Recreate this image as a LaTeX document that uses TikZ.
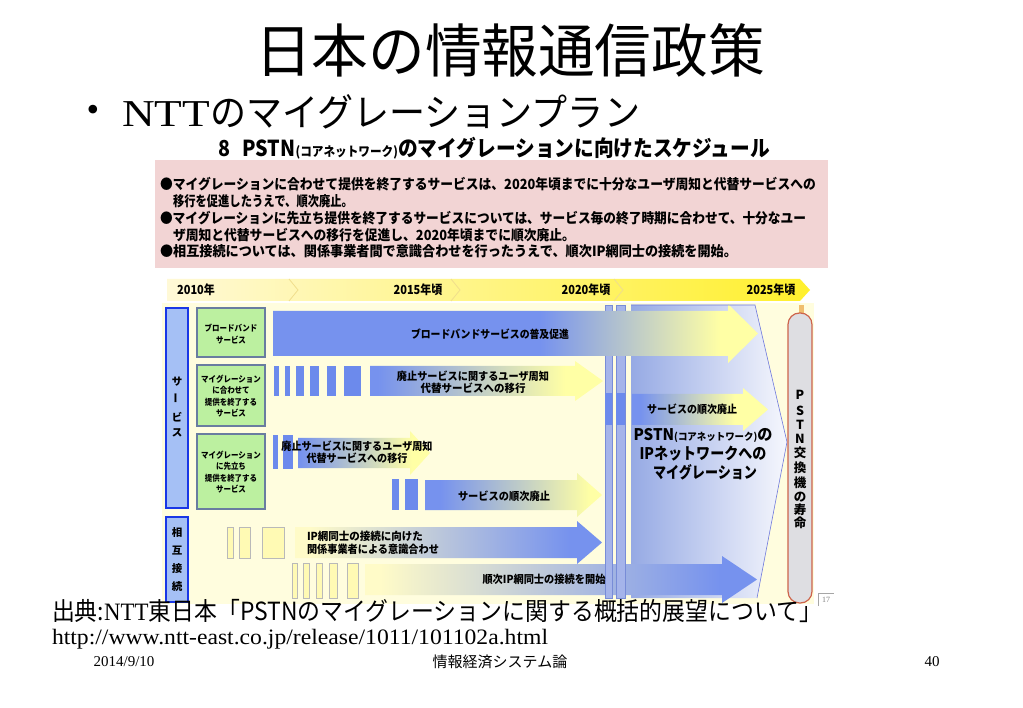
\documentclass[tikz,border=0pt]{standalone}
\usepackage{fontspec}
\setmainfont{Liberation Serif}
\newfontfamily\jp{Noto Sans CJK JP}
\newcommand\fw[2]{\resizebox{#1pt}{\height}{#2}}
\newcommand\fs[1]{\fontsize{#1}{#1}\selectfont}
\newcommand\cx[1]{\scalebox{0.88}[1]{#1}}
\definecolor{abl}{RGB}{118,146,238}
\definecolor{bbarc}{RGB}{108,138,236}
\definecolor{ayel}{RGB}{255,255,165}
\definecolor{ypale}{RGB}{255,251,200}
\definecolor{bgy}{RGB}{255,253,222}
\definecolor{pinkbg}{RGB}{242,212,212}
\definecolor{gfill}{RGB}{188,240,160}
\definecolor{gdraw}{RGB}{105,125,160}
\definecolor{lbfill}{RGB}{165,192,245}
\definecolor{lbdraw}{RGB}{25,55,230}
\definecolor{vbar}{RGB}{165,180,234}
\definecolor{vbdraw}{RGB}{120,140,215}
\definecolor{pnl}{RGB}{150,170,228}
\definecolor{pnr}{RGB}{246,247,253}
\definecolor{pillc}{RGB}{222,222,226}
\definecolor{pilld}{RGB}{205,100,75}
\definecolor{ybarc}{RGB}{255,250,180}
\definecolor{ybard}{RGB}{185,185,185}
\definecolor{tla}{RGB}{255,249,215}
\definecolor{tlb}{RGB}{255,240,45}
\definecolor{tlc}{RGB}{240,222,140}
\definecolor{stub}{RGB}{240,190,110}
\definecolor{pline}{RGB}{110,120,220}
% gradient block arrow: x0 headx tipx bodytop bodybot headtop headbot grad0 grad1
\newcommand\garr[9]{%
  \begin{scope}
    \clip (#1,#4) -- (#2,#4) -- (#2,#6) -- (#3,{(#6+#7)/2}) -- (#2,#7) -- (#2,#5) -- (#1,#5) -- cycle;
    \fill[ca] (#1-1,#6-1) rectangle (#8,#7+1);
    \shade[left color=ca,right color=cb] (#8,#6-1) rectangle (#9,#7+1);
    \fill[cb] (#9,#6-1) rectangle (#3+1,#7+1);
  \end{scope}}
\begin{document}
\begin{tikzpicture}[x=1pt,y=-1pt,
  t/.style={inner sep=0pt,outer sep=0pt},
  gbox/.style={draw=gdraw,fill=gfill,line width=2.4pt},
  lbox/.style={draw=lbdraw,fill=lbfill,line width=2.4pt},
  ybar/.style={fill=ybarc,draw=ybard,line width=0.5pt},
  bbar/.style={fill=bbarc},
  gtxt/.style={t,align=center,font=\jp\bfseries\fontsize{8.5}{11.3}\selectfont},
  rtxt/.style={t,align=center,font=\jp\bfseries\fontsize{11}{12.5}\selectfont},
  vtxt/.style={t,font=\jp\bfseries\fontsize{10.5}{11}\selectfont},
  ptxt/.style={t,font=\jp\bfseries\fontsize{12.5}{13}\selectfont},
  tltxt/.style={t,font=\jp\bfseries\fontsize{12.5}{13}\selectfont}]

\fill[white] (0,0) rectangle (1023,708);
\useasboundingbox (0,0) rectangle (1023,708);

% ---------- slide title ----------
\node[t] (title) at (510,50) {\fw{510}{\jp\fs{58}日本の情報通信政策}};
\node[t] (bul) at (93,113) {\fs{36}•};
\node[t,anchor=west] (sub) at (122,112) {\fw{88}{\fs{38}NTT}\fw{430}{\jp\fs{38}のマイグレーションプラン}};

% ---------- chart heading ----------
\node[t,anchor=west] (cht) at (218,148) {\fw{552}{\jp\bfseries\fs{22}8\hspace{14pt}PSTN{\fs{13}(コアネットワーク)}のマイグレーションに向けたスケジュール}};

% ---------- pink box ----------
\fill[pinkbg] (155,160) rectangle (828,268);
\node[t,anchor=west] (p1) at (160,184) {\fw{656}{\jp\bfseries\fs{14}●マイグレーションに合わせて提供を終了するサービスは、2020年頃までに十分なユーザ周知と代替サービスへの}};
\node[t,anchor=west] (p2) at (173,201) {\fw{180}{\jp\bfseries\fs{14}移行を促進したうえで、順次廃止。}};
\node[t,anchor=west] (p3) at (160,218) {\fw{646}{\jp\bfseries\fs{14}●マイグレーションに先立ち提供を終了するサービスについては、サービス毎の終了時期に合わせて、十分なユー}};
\node[t,anchor=west] (p4) at (173,235) {\fw{402}{\jp\bfseries\fs{14}ザ周知と代替サービスへの移行を促進し、2020年頃までに順次廃止。}};
\node[t,anchor=west] (p5) at (160,251) {\fw{577}{\jp\bfseries\fs{14}●相互接続については、関係事業者間で意識合わせを行ったうえで、順次IP網同士の接続を開始。}};

% ---------- timeline ----------
\shade[left color=tla,right color=tlb] (167,279) -- (800,279) -- (810,290) -- (800,301) -- (167,301) -- cycle;
\draw[tlc,line width=0.8pt] (289,279) -- (298,290) -- (289,301);
\draw[tlc,line width=0.8pt] (451,279) -- (460,290) -- (451,301);
\draw[tlc,line width=0.8pt] (614,279) -- (623,290) -- (614,301);
\node[tltxt] (y2010) at (196,290) {\cx{2010年}};
\node[tltxt] (y2015) at (418,290) {\cx{2015年頃}};
\node[tltxt] (y2020) at (586,290) {\cx{2020年頃}};
\node[tltxt] (y2025) at (771,290) {\cx{2025年頃}};

% ---------- chart background ----------
\fill[bgy] (162,303) rectangle (814,604);

% ---------- migration panel ----------
\shade[left color=pnl,right color=pnr] (631,305) -- (755,305) -- (787,442) -- (757,598) -- (631,598) -- cycle;

% ---------- left category boxes ----------
\draw[lbox] (166,308) rectangle (188,508);
\draw[lbox] (166,517) rectangle (188,602);
\node[vtxt] (s1) at (177,382) {サ};
\node[vtxt] (s2) at (177,398) {\rotatebox{90}{ー}};
\node[vtxt] (s3) at (177,417) {ビ};
\node[vtxt] (s4) at (177,433) {ス};
\node[vtxt] (c1) at (177,533) {相};
\node[vtxt] (c2) at (177,551) {互};
\node[vtxt] (c3) at (177,569) {接};
\node[vtxt] (c4) at (177,587) {続};

\draw[gbox] (197,308) rectangle (265,357);
\draw[gbox] (197,365) rectangle (265,426);
\draw[gbox] (197,434) rectangle (265,509);
\node[gtxt] (g1) at (231,334) {\cx{ブロードバンド}\\\cx{サービス}};
\node[gtxt] (g2) at (231,396) {\cx{マイグレーション}\\\cx{に合わせて}\\\cx{提供を終了する}\\\cx{サービス}};
\node[gtxt] (g3) at (231,472) {\cx{マイグレーション}\\\cx{に先立ち}\\\cx{提供を終了する}\\\cx{サービス}};

% ---------- bars ----------
\foreach \a/\b in {274/279,285/290,296/304,310/319,327/336,344/361}
  \fill[bbar] (\a,366) rectangle (\b,396);
\foreach \a/\b in {273/278,283/293}
  \fill[bbar] (\a,435) rectangle (\b,469);
\foreach \a/\b in {392/399,405/418}
  \fill[bbar] (\a,479) rectangle (\b,510);
\foreach \a/\b in {227/233,239/250,262/284}
  \filldraw[ybar] (\a,527) rectangle (\b,558);
\foreach \a/\b in {292/297,303/309,316/322,329/337,347/358}
  \filldraw[ybar] (\a,563) rectangle (\b,598);

% ---------- arrows ----------
\colorlet{ca}{abl}\colorlet{cb}{ayel}
\garr{370}{575}{603}{366}{396}{361}{401}{378}{565}
\garr{632}{743}{768}{394}{425}{388}{431}{640}{735}
\garr{298}{410}{430}{438}{468}{431}{475}{300}{412}
\garr{425}{577}{602}{480}{510}{473}{517}{440}{590}
\colorlet{ca}{ypale}\colorlet{cb}{abl}
\garr{295}{577}{602}{527}{558}{521}{564}{310}{570}
\garr{365}{722}{757}{564}{595}{556}{603}{380}{720}

% ---------- 2020 divider bars ----------
\filldraw[fill=vbar,draw=vbdraw,line width=0.5pt] (605,305) rectangle (612,598);
\filldraw[fill=vbar,draw=vbdraw,line width=0.5pt] (616,305) rectangle (625,598);
\fill[bbar] (605,393) rectangle (612,425);
\fill[bbar] (616,393) rectangle (625,425);

% broadband arrow (on top of the divider bars)
\colorlet{ca}{abl}\colorlet{cb}{ayel}
\garr{273}{728}{758}{311}{356}{304}{363}{540}{720}

% panel outline
\draw[pline,line width=0.6pt] (631,305) -- (755,305) -- (787,442) -- (757,598);

% ---------- arrow labels ----------
\node[t] (l1) at (490,334) {\fw{158}{\jp\bfseries\fs{11}ブロードバンドサービスの普及促進}};
\node[rtxt] (l2) at (473,382) {\fw{152}{廃止サービスに関するユーザ周知}\\\fw{105}{代替サービスへの移行}};
\node[rtxt] (l3) at (692,409) {\fw{90}{サービスの順次廃止}};
\node[rtxt] (l4) at (357,452) {\fw{151}{廃止サービスに関するユーザ周知}\\\fw{101}{代替サービスへの移行}};
\node[rtxt] (l5) at (504,496) {\fw{92}{サービスの順次廃止}};
\node[rtxt,anchor=west,align=left] (l6) at (307,543) {\fw{116}{IP網同士の接続に向けた}\\\fw{132}{関係事業者による意識合わせ}};
\node[t] (l7) at (544,579) {\fw{123}{\jp\bfseries\fs{11}順次IP網同士の接続を開始}};

\node[t] (m1) at (703,435) {\fw{139}{\jp\bfseries\fs{16}PSTN{\fs{10}(コアネットワーク)}の}};
\node[t] (m2) at (703,454) {\fw{127}{\jp\bfseries\fs{16}IPネットワークへの}};
\node[t] (m3) at (705,472) {\fw{104}{\jp\bfseries\fs{16}マイグレーション}};

% ---------- PSTN switch life pill ----------
\fill[stub] (799,305) rectangle (804,314);
\draw[pilld,fill=pillc,line width=1.2pt,rounded corners=11.5pt] (788,313) rectangle (812,603);
\foreach \c/\y [count=\i] in {P/395,S/411,T/425,N/439,交/453,換/468,機/483,の/497,寿/510,命/523}
  \node[ptxt] (pc\i) at (800,\y) {\c};

% page mark
\draw[gray!70,line width=0.5pt] (818,606) -- (818,593) -- (834,593);
\node[t,text=gray] (pm) at (826,600) {\fs{8}17};

% ---------- footer ----------
\node[t,anchor=west] (src) at (52,611) {\fw{770}{\jp\fs{25}出典:{\rmfamily NTT}東日本「PSTNのマイグレーションに関する概括的展望について」}};
\node[t,anchor=west] (url) at (52,639) {\fw{496}{\fs{22}http://www.ntt-east.co.jp/release/1011/101102a.html}};
\node[t] (date) at (124,662) {\fs{15}2014/9/10};
\node[t] (course) at (500,662) {\jp\fs{15}情報経済システム論};
\node[t] (pg) at (932,662) {\fs{15}40};
\end{tikzpicture}
\end{document}
